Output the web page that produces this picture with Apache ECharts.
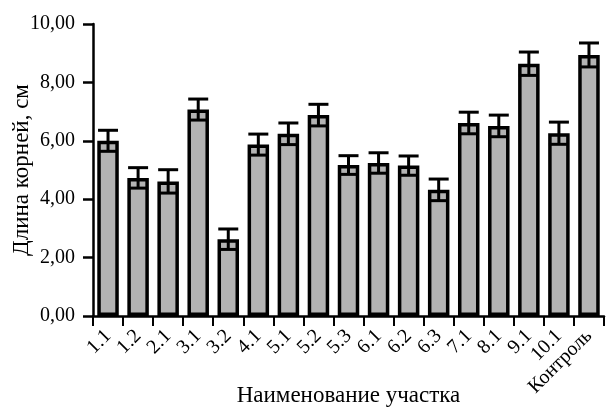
<!DOCTYPE html>
<html><head><meta charset="utf-8">
<script src="https://cdn.jsdelivr.net/npm/echarts@6/dist/echarts.min.js"></script>
<style>html,body{margin:0;padding:0;background:#fff}#c{width:611px;height:412px}</style>
</head><body><div id="c"></div>
<script>
var categories = ['1.1','1.2','2.1','3.1','3.2','4.1','5.1','5.2','5.3','6.1','6.2','6.3','7.1','8.1','9.1','10.1','Контроль'];
var values = [6.00, 4.73, 4.61, 7.07, 2.63, 5.87, 6.24, 6.88, 5.17, 5.24, 5.15, 4.32, 6.61, 6.51, 8.64, 6.26, 8.94];
var errors = [0.36, 0.35, 0.40, 0.36, 0.35, 0.36, 0.37, 0.37, 0.32, 0.35, 0.33, 0.37, 0.37, 0.37, 0.40, 0.38, 0.41];
var yTicks = [0, 2, 4, 6, 8, 10];

var FONT = '"Liberation Serif", "Times New Roman", serif';
var errData = values.map(function (v, i) { return [i, v - errors[i], v + errors[i]]; });

var chart = echarts.init(document.getElementById('c'), null, {renderer: 'canvas'});
chart.setOption({
  animation: false,
  grid: {left: 93, right: 7, top: 24, bottom: 96, containLabel: false, outerBoundsMode: 'none'},
  xAxis: {
    type: 'category',
    data: categories,
    name: 'Наименование участка',
    nameLocation: 'middle',
    nameGap: 68,
    nameMoveOverlap: false,
    nameTextStyle: {fontFamily: FONT, fontSize: 23, color: '#000'},
    axisLine: {lineStyle: {color: '#000', width: 2.5}},
    axisTick: {show: true, length: 10, lineStyle: {color: '#000', width: 2}},
    axisLabel: {rotate: 45, fontFamily: FONT, fontSize: 20, color: '#000', margin: 17, interval: 0}
  },
  yAxis: {
    type: 'value',
    min: 0, max: 10, interval: 2,
    name: 'Длина корней, см',
    nameLocation: 'middle',
    nameGap: 60,
    nameMoveOverlap: false,
    nameTextStyle: {fontFamily: FONT, fontSize: 23, color: '#000'},
    splitLine: {show: false},
    axisLine: {show: true, lineStyle: {color: '#000', width: 2.5}},
    axisTick: {show: true, length: 10, lineStyle: {color: '#000', width: 2.5}},
    axisLabel: {fontFamily: FONT, fontSize: 20, color: '#000', margin: 18,
      formatter: function (v) { return yTicks.indexOf(v) >= 0 ? v.toFixed(2).replace('.', ',') : ''; }}
  },
  series: [{
    type: 'bar',
    data: values,
    barWidth: 21.5,
    itemStyle: {color: '#b3b3b3', borderColor: '#000', borderWidth: 3.5},
    silent: true
  }, {
    type: 'custom',
    data: errData,
    silent: true,
    z: 10,
    renderItem: function (params, api) {
      var x = api.value(0);
      var lo = api.coord([x, api.value(1)]);
      var hi = api.coord([x, api.value(2)]);
      var hw = 10;
      var st = {stroke: '#000', lineWidth: 3};
      return {type: 'group', children: [
        {type: 'line', shape: {x1: lo[0], y1: lo[1], x2: hi[0], y2: hi[1]}, style: st},
        {type: 'line', shape: {x1: hi[0] - hw, y1: hi[1], x2: hi[0] + hw, y2: hi[1]}, style: st},
        {type: 'line', shape: {x1: lo[0] - hw, y1: lo[1], x2: lo[0] + hw, y2: lo[1]}, style: st}
      ]};
    }
  }]
});
</script></body></html>
